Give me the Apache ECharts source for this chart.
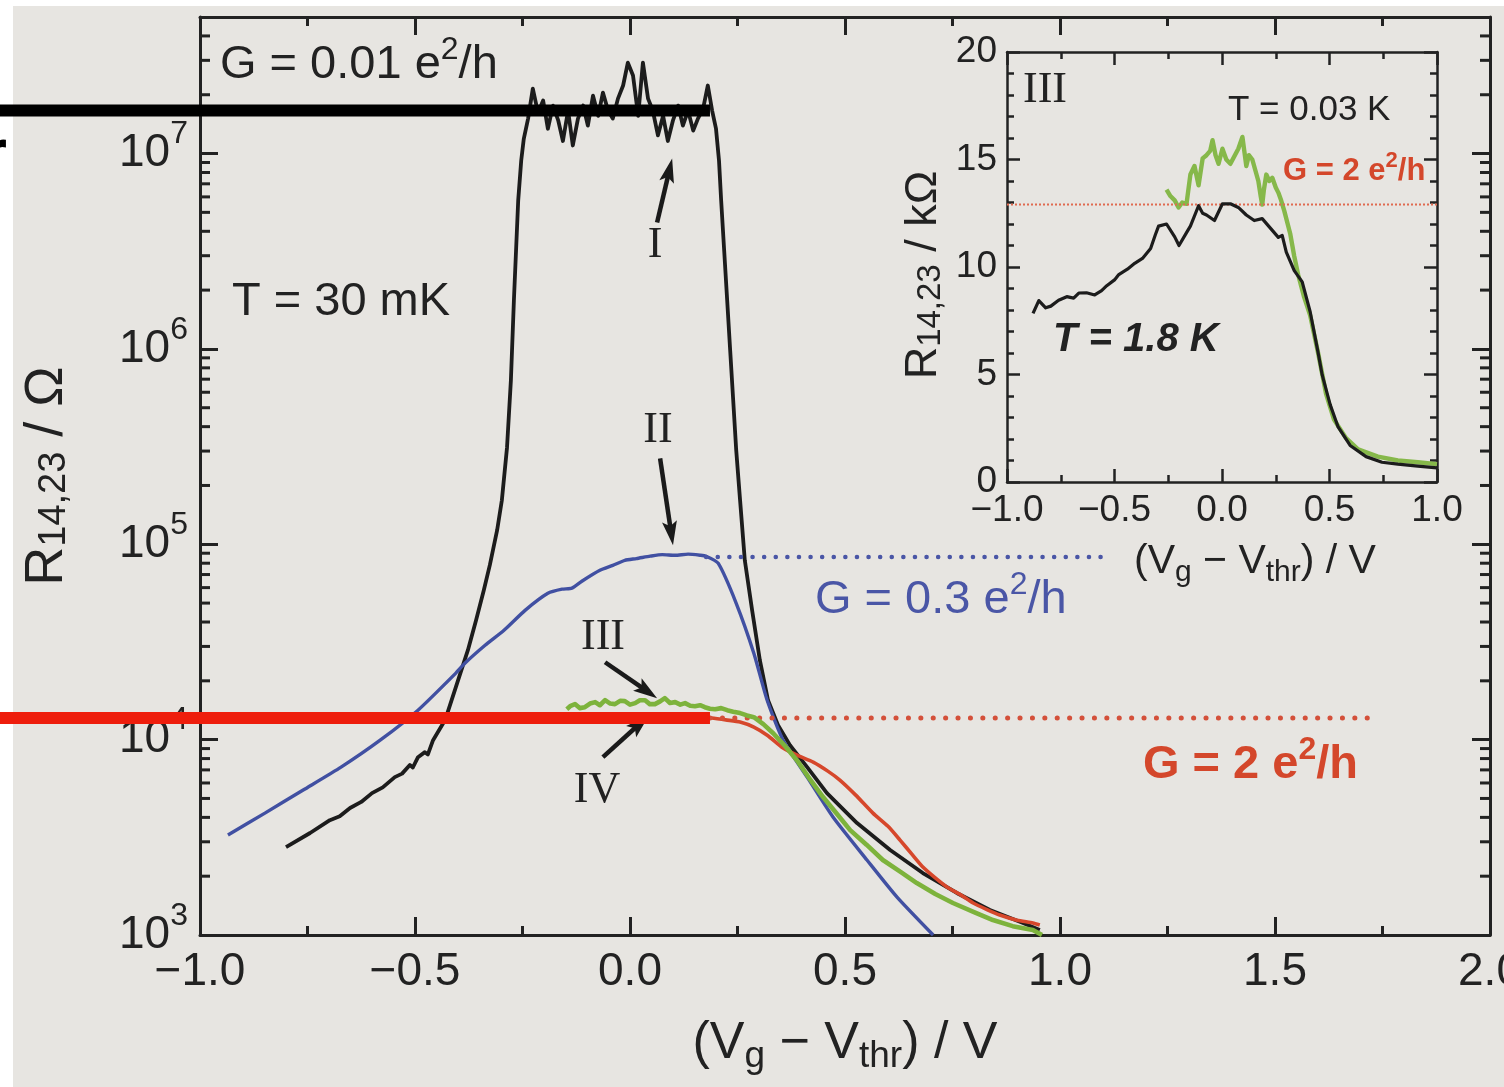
<!DOCTYPE html>
<html><head><meta charset="utf-8">
<script src="https://cdn.jsdelivr.net/npm/echarts@6/dist/echarts.min.js"></script>
<style>html,body{margin:0;padding:0;background:#fff}#c{width:1504px;height:1087px}</style>
</head><body><div id="c"></div><script>
// ---------------- data (x: Vg - Vthr in V, y: R14,23 in Ohm) ----------------
const curveI = [[-0.800,2818],[-0.744,3327],[-0.698,3871],[-0.675,4050],[-0.651,4467],[-0.625,4800],[-0.600,5324],[-0.575,5700],[-0.547,6427],[-0.530,6700],[-0.512,7413],[-0.505,7200],[-0.493,8128],[-0.477,8630],[-0.470,8400],[-0.458,9931],[-0.430,12590],[-0.405,18570],[-0.377,28700],[-0.358,40800],[-0.340,58200],[-0.326,78200],[-0.309,118000],[-0.298,168000],[-0.286,313000],[-0.277,690000],[-0.270,1770000],[-0.260,5750000],[-0.253,9200000],[-0.247,11900000],
[-0.237,1.51e7],[-0.226,2.15e7],[-0.214,1.62e7],[-0.202,1.87e7],[-0.191,1.34e7],[-0.179,1.76e7],[-0.167,1.48e7],[-0.156,1.16e7],[-0.144,1.66e7],[-0.133,1.10e7],[-0.121,1.51e7],[-0.109,1.76e7],[-0.098,1.39e7],[-0.086,1.98e7],[-0.074,1.56e7],[-0.063,2.05e7],[-0.051,1.66e7],[-0.040,1.51e7],[-0.028,1.91e7],[-0.016,2.23e7],[-0.005,2.92e7],[0.007,2.51e7],[0.019,1.56e7],[0.030,2.92e7],[0.042,1.91e7],[0.053,1.66e7],[0.065,1.24e7],[0.077,1.56e7],[0.088,1.16e7],[0.100,1.48e7],[0.112,1.76e7],[0.123,1.39e7],[0.135,1.66e7],[0.147,1.31e7],[0.158,1.51e7],[0.170,1.70e7],[0.181,2.23e7],[0.191,1.66e7],[0.200,1.34e7],
[0.207,9.2e6],[0.212,5.75e6],[0.219,3.19e6],[0.226,1.77e6],[0.233,9.8e5],[0.240,5.46e5],[0.247,3.03e5],[0.256,1.68e5],[0.267,8.28e4],[0.284,4.59e4],[0.302,2.55e4],[0.321,1.59e4],[0.344,1.19e4],[0.372,9376],[0.412,7228],[0.458,5324],[0.528,3741],[0.605,2723],[0.681,2075],[0.760,1641],[0.837,1343],[0.914,1152],[0.953,1061]];

const curveII = [[-0.935,3250],[-0.849,4207],[-0.760,5521],[-0.672,7228],[-0.581,9931],[-0.493,14150],[-0.405,21900],[-0.384,24600],[-0.337,30400],[-0.293,36300],[-0.244,45900],[-0.191,56100],[-0.158,58900],[-0.135,59600],[-0.112,64700],[-0.070,73600],[-0.040,78000],[-0.012,82800],[0.015,84500],[0.047,86900],[0.075,88500],[0.105,87900],[0.135,89000],[0.163,87900],[0.177,86900],
[0.205,80000],[0.247,49900],[0.288,27700],[0.319,15900],[0.356,9931],[0.412,6427],[0.472,4018],[0.551,2421],[0.621,1563],[0.705,1000]];

const curveIII = [[-0.147,14320],[-0.138,14900],[-0.128,15200],[-0.117,14500],[-0.105,14660],[-0.093,15300],[-0.081,15560],[-0.070,15000],[-0.058,15920],[-0.046,15300],[-0.035,15200],[-0.023,15800],[-0.012,15740],[0.000,15100],[0.012,15380],[0.023,15900],[0.035,15920],[0.046,15200],[0.058,15200],[0.070,15700],[0.081,16300],[0.093,15400],[0.105,15560],[0.117,15100],[0.128,15380],[0.140,14900],[0.151,14830],[0.163,15000],[0.174,14660],[0.186,14400],[0.198,14320],[0.212,14500],[0.226,14150],[0.240,13900],[0.256,13670],[0.272,13300],[0.288,13030],[0.310,12000],[0.333,10790],[0.360,9300],[0.388,7852],[0.420,6200],[0.449,5082],[0.480,4200],[0.512,3443],[0.550,2900],[0.588,2421],[0.630,2100],[0.667,1845],[0.710,1620],[0.751,1458],[0.800,1310],[0.844,1193],[0.890,1110],[0.937,1061],[0.958,1000]];

const curveIV = [[-0.151,12700],[-0.125,12850],[-0.100,12900],[-0.075,12700],[-0.050,12600],[-0.025,12850],[0.000,13000],[0.025,12900],[0.050,12800],[0.075,12950],[0.100,13000],[0.125,12850],[0.150,12700],[0.163,13000],[0.190,12900],[0.226,12590],[0.256,12300],[0.288,11590],[0.320,10500],[0.356,9057],[0.390,8300],[0.426,7674],[0.460,6900],[0.488,6210],[0.525,5200],[0.565,4207],[0.600,3600],[0.628,3062],[0.655,2600],[0.681,2228],[0.710,1960],[0.737,1762],[0.770,1600],[0.798,1458],[0.830,1350],[0.860,1265],[0.900,1190],[0.937,1152],[0.953,1125]];

// quantized-conductance reference levels (Ohm): h/(0.3 e^2), h/(2 e^2)
const levelG03 = [[0.177,86043],[1.116,86043]];
const levelG2 = [[0.186,12906],[1.721,12906]];
// arrows: [tail x, tail R, tip x, tip R]
const arrows = [[0.063,4.44e6,0.098,9.42e6],[0.070,2.75e5,0.100,9.9e4],[-0.058,2.49e4,0.063,1.63e4],[-0.063,8.13e3,0.044,1.33e4]];
// overlay marker bars drawn on the figure: [x start, R, x end, R]
const overlayBlack = [[-1.47,1.66e7,0.186,1.66e7]];
const overlayRed = [[-1.47,12906,0.186,12906]];

// inset (x in V, y in kOhm)
const insetT18 = [[-0.879,7.84],[-0.852,8.44],[-0.82,8.10],[-0.796,8.18],[-0.76,8.45],[-0.722,8.62],[-0.69,8.55],[-0.666,8.79],[-0.63,8.80],[-0.592,8.70],[-0.56,8.90],[-0.536,9.13],[-0.50,9.40],[-0.48,9.65],[-0.44,9.90],[-0.406,10.17],[-0.37,10.40],[-0.332,10.86],[-0.31,11.5],[-0.295,11.9],[-0.258,12.0],[-0.22,11.4],[-0.20,11.0],[-0.165,11.6],[-0.147,11.9],[-0.109,12.85],[-0.09,12.5],[-0.072,12.42],[-0.035,12.16],[0.002,12.94],[0.039,12.94],[0.076,12.77],[0.113,12.42],[0.15,12.16],[0.187,12.25],[0.224,11.82],[0.262,11.38],[0.28,11.47],[0.299,10.69],[0.336,9.83],[0.373,9.31],[0.41,7.92],[0.447,6.02],[0.466,4.98],[0.503,3.60],[0.54,2.56],[0.596,1.70],[0.67,1.18],[0.744,0.92],[0.818,0.83],[0.911,0.74],[1.0,0.66]];
const insetT003 = [[-0.258,13.6],[-0.24,13.3],[-0.22,13.1],[-0.202,12.77],[-0.185,13.0],[-0.165,12.94],[-0.147,14.3],[-0.128,14.7],[-0.109,13.8],[-0.09,15.05],[-0.072,15.2],[-0.055,15.4],[-0.044,15.9],[-0.03,15.2],[-0.016,14.8],[0.002,15.5],[0.02,15.0],[0.039,14.8],[0.06,15.2],[0.076,15.5],[0.095,16.05],[0.105,15.3],[0.113,14.7],[0.125,15.2],[0.141,15.0],[0.155,14.5],[0.169,14.0],[0.18,13.3],[0.187,12.9],[0.195,13.6],[0.206,14.3],[0.22,14.0],[0.234,14.15],[0.25,13.7],[0.262,13.46],[0.275,13.1],[0.29,12.6],[0.317,11.56],[0.336,10.5],[0.354,9.65],[0.382,8.6],[0.41,7.75],[0.447,6.0],[0.484,4.1],[0.521,2.9],[0.577,2.04],[0.633,1.52],[0.725,1.18],[0.818,1.0],[0.911,0.92],[1.0,0.83]];
const insetLevelG2 = [[-1.0,12.906],[1.0,12.906]];

// tick definitions
const mainXTicks = {min:-1, max:2, interval:0.5};
const mainYRange = {min:1e3, max:5e7};
const logDecades = [3,4,5,6,7];
const logMinorMultipliers = [2,3,4,5,6,7,8,9];
const insetXTicks = {min:-1, max:1, interval:0.5};
const insetYTicks = {min:0, max:20, interval:5};

// ---------------- rendering ----------------
const FONT = "'Liberation Sans', Arial, sans-serif";
const INK = '#222222';
const BLUE = '#4150a2';
const RED = '#d6472b';
const GREEN = '#7db33c';

const minorLogTicks = [];
logDecades.forEach(d => logMinorMultipliers.forEach(m => {
  const v = m * Math.pow(10, d);
  if (v < mainYRange.max) minorLogTicks.push([mainXTicks.min, v]);
}));

function fmtSigned(v){ return (v < 0 ? '\u2212' : '') + Math.abs(v).toFixed(1); }

const chart = echarts.init(document.getElementById('c'), null, {renderer:'canvas'});

// superscript: base centred in a tall line, superscript pinned to the top of the line
const supRich = (fs, ss, color, weight, diff) => ({
  a: {fontSize: fs, lineHeight: ss + 2*diff, verticalAlign:'middle', fontFamily: FONT, color, fill: color, fontWeight: weight||'normal'},
  s: {fontSize: ss, lineHeight: ss, verticalAlign:'top', fontFamily: FONT, color, fill: color, fontWeight: weight||'normal'}
});
// subscript: base centred in a tall line, subscript pinned to the bottom of the line
const subRich = (fs, ss, color, diff) => ({
  a: {fontSize: fs, lineHeight: Math.max(fs, ss + 2*diff), verticalAlign:'middle', fontFamily: FONT, color, fill: color},
  b: {fontSize: ss, lineHeight: ss, verticalAlign:'bottom', fontFamily: FONT, color, fill: color}
});

function xAxisCfg(grid, pos, t, opts){
  return Object.assign({
    type:'value', gridIndex:grid, position:pos, min:t.min, max:t.max, interval:t.interval,
    axisLine:{show:true, onZero:false, lineStyle:{color:INK, width:opts.lw}},
    axisTick:{show:true, inside:true, length:opts.major, lineStyle:{color:INK, width:opts.tw}},
    minorTick:{show:true, splitNumber:opts.split, length:opts.minor, lineStyle:{color:INK, width:opts.tw}},
    splitLine:{show:false}, minorSplitLine:{show:false},
    axisLabel:{show:opts.labels, margin:opts.margin, fontSize:opts.fs, fontFamily:FONT, color:INK, formatter:fmtSigned, showMinLabel:true, showMaxLabel:true},
  }, opts.extra||{});
}

function segmentSeries(name, data, color, width, z){
  return {type:'custom', name, xAxisIndex:0, yAxisIndex:0, data, clip:false, silent:true,
    dimensions:['x1','y1','x2','y2'], encode:{x:[0,2], y:[1,3]}, z,
    renderItem:(params, api)=>{
      const a = api.coord([api.value(0), api.value(1)]);
      const b = api.coord([api.value(2), api.value(3)]);
      return {type:'line', shape:{x1:a[0], y1:a[1], x2:b[0], y2:b[1]}, style:{stroke:color, lineWidth:width, lineCap:'butt'}};
    }};
}

const option = {
  backgroundColor:'#e7e5e1',
  animation:false,
  grid:[
    {left:200, top:17, width:1290, height:918, outerBoundsMode:'none', containLabel:false},
    {left:1007, top:52, width:430, height:430, outerBoundsMode:'none', containLabel:false}
  ],
  xAxis:[
    xAxisCfg(0,'bottom',mainXTicks,{lw:3,tw:3,major:18,minor:9,split:2,labels:true,margin:14,fs:46,extra:{
      name:'{a|(V}{b|g}{a| \u2212 V}{b|thr}{a|) / V}', nameLocation:'middle', nameGap:77, nameMoveOverlap:false,
      nameTextStyle:{rich:subRich(52,37,INK,13)}}}),
    xAxisCfg(0,'top',mainXTicks,{lw:3,tw:3,major:18,minor:9,split:2,labels:false}),
    xAxisCfg(1,'bottom',insetXTicks,{lw:2.5,tw:2.5,major:13,minor:7,split:2,labels:true,margin:10,fs:37,extra:{
      name:'{a|(V}{b|g}{a| \u2212 V}{b|thr}{a|) / V}', nameLocation:'middle', nameGap:54, nameMoveOverlap:false,
      nameTextStyle:{padding:[0,0,0,66], rich:subRich(41,30,INK,11)}}}),
    xAxisCfg(1,'top',insetXTicks,{lw:2.5,tw:2.5,major:13,minor:7,split:2,labels:false})
  ],
  yAxis:[
    {type:'log', logBase:10, gridIndex:0, position:'left', min:mainYRange.min, max:mainYRange.max,
      axisLine:{show:true, onZero:false, lineStyle:{color:INK, width:3}},
      axisTick:{show:true, inside:true, length:18, lineStyle:{color:INK, width:3}},
      splitLine:{show:false},
      axisLabel:{margin:12, showMaxLabel:false, formatter:(v)=>{
          const e = Math.log10(v); const r = Math.round(e);
          if (Math.abs(e-r) > 0.01) return '';
          return '{a|10}{s|' + r + '}'; },
        rich:supRich(46,32,INK,'normal',19)},
      name:'{a|R}{b|14,23}{a| / \u03a9}', nameLocation:'middle', nameGap:126, nameMoveOverlap:false,
      nameTextStyle:{rich:subRich(54,38,INK,8)}},
    {type:'log', logBase:10, gridIndex:0, position:'right', min:mainYRange.min, max:mainYRange.max,
      axisLine:{show:true, onZero:false, lineStyle:{color:INK, width:3}},
      axisTick:{show:true, inside:true, length:18, lineStyle:{color:INK, width:3}},
      splitLine:{show:false}, axisLabel:{show:false}},
    {type:'value', gridIndex:1, position:'left', min:insetYTicks.min, max:insetYTicks.max, interval:insetYTicks.interval,
      axisLine:{show:true, onZero:false, lineStyle:{color:INK, width:2.5}},
      axisTick:{show:true, inside:true, length:13, lineStyle:{color:INK, width:2.5}},
      minorTick:{show:true, splitNumber:5, length:7, lineStyle:{color:INK, width:2.5}},
      splitLine:{show:false},
      axisLabel:{margin:10, fontSize:37, fontFamily:FONT, color:INK},
      name:'{a|R}{b|14,23}{a| / k\u03a9}', nameLocation:'middle', nameGap:60, nameMoveOverlap:false,
      nameTextStyle:{padding:[0,16,0,0], rich:subRich(45,33,INK,7)}},
    {type:'value', gridIndex:1, position:'right', min:insetYTicks.min, max:insetYTicks.max, interval:insetYTicks.interval,
      axisLine:{show:true, onZero:false, lineStyle:{color:INK, width:2.5}},
      axisTick:{show:true, inside:true, length:13, lineStyle:{color:INK, width:2.5}},
      minorTick:{show:true, splitNumber:5, length:7, lineStyle:{color:INK, width:2.5}},
      splitLine:{show:false}, axisLabel:{show:false}}
  ],
  series:[
    {type:'custom', name:'minor log ticks', xAxisIndex:0, yAxisIndex:0, data:minorLogTicks, clip:false, silent:true,
      encode:{x:0, y:1},
      renderItem:(params, api)=>{
        const v = api.value(1);
        const pL = api.coord([mainXTicks.min, v]);
        const pR = api.coord([mainXTicks.max, v]);
        return {type:'group', children:[
          {type:'line', shape:{x1:pL[0], y1:pL[1], x2:pL[0]+10, y2:pL[1]}, style:{stroke:INK, lineWidth:3}},
          {type:'line', shape:{x1:pR[0]-10, y1:pR[1], x2:pR[0], y2:pR[1]}, style:{stroke:INK, lineWidth:3}}
        ]};
      }},
    {type:'line', name:'I', xAxisIndex:0, yAxisIndex:0, data:curveI, showSymbol:false, symbol:'none',
      lineStyle:{color:'#1c1c1c', width:3.8, join:'round'}, z:3},
    {type:'line', name:'II', xAxisIndex:0, yAxisIndex:0, data:curveII, showSymbol:false, symbol:'none', smooth:0.2,
      lineStyle:{color:BLUE, width:3.4}, z:3},
    {type:'line', name:'IV', xAxisIndex:0, yAxisIndex:0, data:curveIV, showSymbol:false, symbol:'none', smooth:0.2,
      lineStyle:{color:RED, width:3.6}, z:3},
    {type:'line', name:'III', xAxisIndex:0, yAxisIndex:0, data:curveIII, showSymbol:false, symbol:'none',
      lineStyle:{color:GREEN, width:4.6, join:'round'}, z:4},
    {type:'line', name:'G = 0.3 e2/h', xAxisIndex:0, yAxisIndex:0, data:levelG03, showSymbol:false, symbol:'none',
      lineStyle:{color:'#4a56a6', width:4.5, type:[0.1,11.5], cap:'round'}, z:3},
    {type:'line', name:'G = 2 e2/h', xAxisIndex:0, yAxisIndex:0, data:levelG2, showSymbol:false, symbol:'none',
      lineStyle:{color:'#d4503a', width:5, type:[0.1,12.3], cap:'round'}, z:3},
    {type:'custom', name:'arrows', xAxisIndex:0, yAxisIndex:0, data:arrows, clip:false, silent:true,
      dimensions:['x1','y1','x2','y2'], encode:{x:[0,2], y:[1,3]}, z:5,
      renderItem:(params, api)=>{
        const a = api.coord([api.value(0), api.value(1)]);
        const b = api.coord([api.value(2), api.value(3)]);
        const dx=b[0]-a[0], dy=b[1]-a[1], L=Math.hypot(dx,dy), ux=dx/L, uy=dy/L;
        const hl=24, hw=7.5;
        const bx=b[0]-ux*hl, by=b[1]-uy*hl;
        return {type:'group', children:[
          {type:'line', shape:{x1:a[0], y1:a[1], x2:bx+ux*6, y2:by+uy*6}, style:{stroke:'#1a1a1a', lineWidth:4.5}},
          {type:'polygon', shape:{points:[[b[0],b[1]],[bx-uy*hw,by+ux*hw],[bx+ux*5,by+uy*5],[bx+uy*hw,by-ux*hw]]}, style:{fill:'#1a1a1a'}}
        ]};
      }},
    {type:'line', name:'T = 1.8 K', xAxisIndex:2, yAxisIndex:2, data:insetT18, showSymbol:false, symbol:'none',
      lineStyle:{color:'#1c1c1c', width:3.2, join:'round'}, z:4},
    {type:'line', name:'T = 0.03 K', xAxisIndex:2, yAxisIndex:2, data:insetT003, showSymbol:false, symbol:'none',
      lineStyle:{color:'#86b84a', width:4.4, join:'round'}, z:3},
    {type:'line', name:'inset G = 2 e2/h', xAxisIndex:2, yAxisIndex:2, data:insetLevelG2, showSymbol:false, symbol:'none',
      lineStyle:{color:'#e06a50', width:2, type:[2,2]}, z:3},
    segmentSeries('marker black', overlayBlack, '#000000', 12, 20),
    segmentSeries('marker red', overlayRed, '#ee1d0c', 12, 20)
  ],
  graphic:[
    {type:'rect', z:-100, silent:true, shape:{x:0, y:0, width:13, height:1087}, style:{fill:'#ffffff'}},
    {type:'rect', z:-100, silent:true, shape:{x:0, y:0, width:1504, height:6}, style:{fill:'#ffffff'}},
    {type:'text', z:100, x:-18, y:124, style:{text:'r', font:"bold 64px 'Liberation Sans'", fill:'#000', verticalAlign:'top'}},
    {type:'text', z:100, x:220, y:65, style:{text:'{a|G = 0.01 e}{s|2}{a|/h}', verticalAlign:'middle', rich:supRich(47,32,INK,'normal',15)}},
    {type:'text', z:100, x:232, y:302, style:{text:'T = 30 mK', font:"47px 'Liberation Sans'", fill:INK, verticalAlign:'middle'}},
    {type:'text', z:100, x:655, y:245, style:{text:'I', font:"44px 'Liberation Serif'", fill:INK, align:'center', verticalAlign:'middle'}},
    {type:'text', z:100, x:658, y:430, style:{text:'II', font:"44px 'Liberation Serif'", fill:INK, align:'center', verticalAlign:'middle'}},
    {type:'text', z:100, x:603, y:637, style:{text:'III', font:"44px 'Liberation Serif'", fill:INK, align:'center', verticalAlign:'middle'}},
    {type:'text', z:100, x:597, y:790, style:{text:'IV', font:"44px 'Liberation Serif'", fill:INK, align:'center', verticalAlign:'middle'}},
    {type:'text', z:100, x:815, y:600, style:{text:'{a|G = 0.3 e}{s|2}{a|/h}', verticalAlign:'middle', rich:supRich(47,32,'#4a56a6','normal',15)}},
    {type:'text', z:100, x:1143, y:765, style:{text:'{a|G = 2 e}{s|2}{a|/h}', verticalAlign:'middle', rich:supRich(47,32,'#d4472b','bold',15)}},
    {type:'text', z:100, x:1045, y:90, style:{text:'III', font:"44px 'Liberation Serif'", fill:INK, align:'center', verticalAlign:'middle'}},
    {type:'text', z:100, x:1228, y:110, style:{text:'T = 0.03 K', font:"35px 'Liberation Sans'", fill:INK, verticalAlign:'middle'}},
    {type:'text', z:100, x:1283, y:171, style:{text:'{a|G = 2 e}{s|2}{a|/h}', verticalAlign:'middle', rich:supRich(31,22,'#d4472b','bold',10)}},
    {type:'text', z:100, x:1053, y:340, style:{text:'T = 1.8 K', font:"italic bold 40px 'Liberation Sans'", fill:INK, verticalAlign:'middle'}}
  ]
};
chart.setOption(option);
</script></body></html>
